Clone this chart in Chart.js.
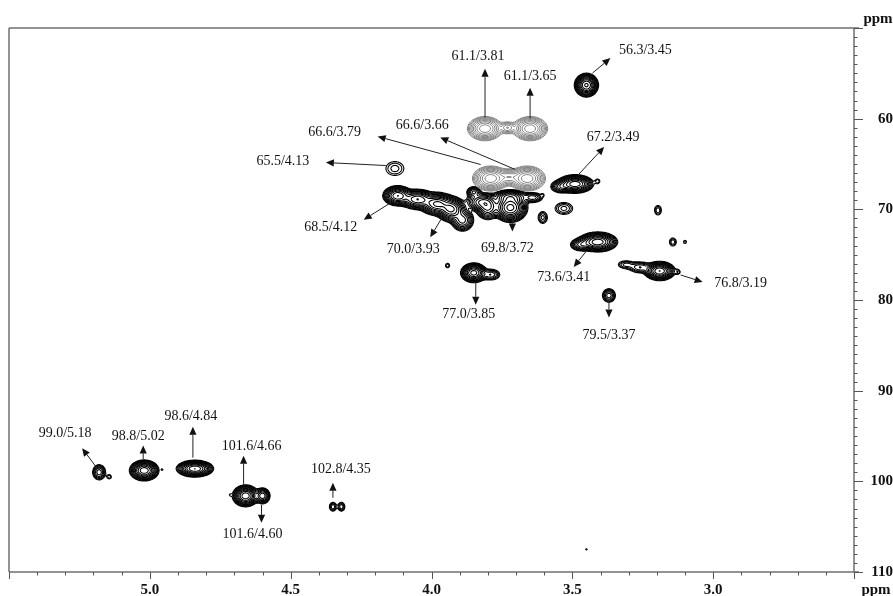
<!DOCTYPE html>
<html>
<head>
<meta charset="utf-8">
<script src="https://cdn.jsdelivr.net/npm/chart.js@4.4.1/dist/chart.umd.min.js"></script>
<style>
  html, body { margin: 0; padding: 0; background: #fff; }
  canvas { display: block; }
</style>
</head>
<body>
<canvas id="hsqc" width="893" height="596"></canvas>
<script>
// ---- Sample spectrum (black contours): 1H shift, 13C shift (ppm), relative intensity, Gaussian sigma (ppm)
const sampleH = [3.45, 4.13, 4.12, 4.05, 3.98, 3.93, 3.89, 3.85, 3.80, 3.72, 3.72, 3.64,
                 3.49, 3.54, 3.41, 3.41, 3.47, 3.19, 3.26, 3.31, 3.125, 3.37, 3.85, 3.79,
                 3.943, 3.196, 3.143, 3.10, 3.605, 3.53, 3.605, 3.45,
                 5.18, 5.144, 5.02, 4.956, 4.84, 4.66, 4.60, 4.715, 4.35, 4.32, 3.82];
const sampleC = [56.3, 65.5, 68.5, 68.9, 69.4, 70.0, 71.2, 68.1, 69.9, 69.8, 68.6, 68.7,
                 67.2, 67.5, 66.9, 73.6, 73.9, 76.8, 76.4, 76.1, 76.9, 79.5, 77.0, 77.2,
                 76.2, 70.1, 73.6, 73.6, 70.9, 69.9, 68.4, 107.5,
                 99.0, 99.5, 98.8, 98.7, 98.6, 101.6, 101.6, 101.5, 102.8, 102.8, 69.2];
const sampleAmp = [1.5, 0.09, 1.0, 1.0, 1.1, 1.1, 0.45, 0.3, 0.5, 1.6, 0.5, 0.25,
                   1.3, 0.3, 0.07, 1.3, 0.3, 1.4, 0.2, 0.12, 0.07, 0.25, 1.2, 0.2,
                   0.07, 0.1, 0.1, 0.06, 0.12, 0.12, 0.05, 0.05,
                   0.25, 0.07, 1.3, 0.045, 1.4, 1.3, 0.5, 0.045, 0.14, 0.14, 0.55];
const sampleWH = [0.016, 0.025, 0.021, 0.025, 0.025, 0.021, 0.018, 0.012, 0.018, 0.023, 0.028, 0.018,
                  0.025, 0.018, 0.007, 0.027, 0.018, 0.021, 0.021, 0.018, 0.007, 0.012, 0.018, 0.018,
                  0.007, 0.009, 0.009, 0.0064, 0.011, 0.021, 0.0046, 0.0046,
                  0.012, 0.007, 0.020, 0.0043, 0.025, 0.018, 0.012, 0.0043, 0.0078, 0.0078, 0.025];
const sampleWC = [0.49, 0.60, 0.44, 0.44, 0.50, 0.55, 0.55, 0.30, 0.55, 0.61, 0.33, 0.28,
                  0.39, 0.33, 0.22, 0.42, 0.33, 0.40, 0.33, 0.28, 0.22, 0.39, 0.42, 0.33,
                  0.24, 0.39, 0.33, 0.20, 0.44, 0.44, 0.14, 0.14,
                  0.44, 0.22, 0.44, 0.13, 0.35, 0.46, 0.39, 0.13, 0.31, 0.31, 0.45];

// ---- Reference spectrum (grey contours)
const refH   = [3.81, 3.65, 3.73, 3.79, 3.66, 3.725];
const refC   = [61.1, 61.1, 61.0, 66.6, 66.6, 66.4];
const refAmp = [1.0, 1.0, 0.3, 1.0, 1.0, 0.3];
const refWH  = [0.027, 0.027, 0.014, 0.028, 0.028, 0.018];
const refWC  = [0.58, 0.58, 0.36, 0.60, 0.60, 0.44];

// ---- Assigned cross-peaks (13C / 1H)
const assignedC = [56.3, 61.1, 61.1, 66.6, 66.6, 65.5, 67.2, 68.5, 70.0, 69.8,
                   73.6, 76.8, 79.5, 77.0, 99.0, 98.8, 98.6, 101.6, 101.6, 102.8];
const assignedH = [3.45, 3.81, 3.65, 3.79, 3.66, 4.13, 3.49, 4.12, 3.93, 3.72,
                   3.41, 3.19, 3.37, 3.85, 5.18, 5.02, 4.84, 4.66, 4.60, 4.35];

// Axis ranges and tick steps (ppm)
const xRange = [2.5, 5.5];
const yRange = [50, 110];
const xMajor = 0.5, xMinor = 0.1;
const yMajor = 10, yMinor = 1;

// Callout layout, px offsets from the cross-peak: [arrow start dx, dy, arrow tip dx, dy, label dx, dy]
const calloutLayout = [
  [6, -12, 24, -27, 59, -35],
  [0, -11, 0, -60, -7, -72],
  [0, -10, 0, -41, 0, -52],
  [-10, -14, -113, -42, -156, -46],
  [-12, -9, -87, -41, -105, -53],
  [-9, -3, -69, -6, -112, -7],
  [3, -9, 29, -37, 38, -47],
  [-7, 7, -34, 24, -67, 32],
  [-9, 8, -21, 28, -38, 40],
  [2, 11, 2, 24, -3, 41],
  [-12, 10, -24, 25, -34, 35],
  [21, 4, 43, 11, 81, 12],
  [0, 5, 0, 22, 0, 40],
  [2, 9, 2, 32, -5, 42],
  [-2, -4, -17, -24, -34, -39],
  [-1, -11, -1, -25, -6, -34],
  [-2, -11, -2, -42, -4, -52],
  [-2, -11, -2, -40, 6, -50],
  [-1, 9, -1, 27, -10, 38],
  [0, -9, 0, -24, 8, -37]
];

// Contour levels (geometric series)
function levels(base, ratio, n) {
  const out = [];
  for (let i = 0; i < n; i++) out.push(base * Math.pow(ratio, i));
  return out;
}
const sampleLevels = levels(0.04, 1.38, 13);
const refLevels = levels(0.07, 1.35, 9);

const SERIF = '"Liberation Serif", "Times New Roman", serif';

// Sum of 2D Gaussians on a 1 px grid covering the plot area
function buildField(ds, xs, ys, area) {
  const ox = Math.floor(area.left), oy = Math.floor(area.top);
  const nx = Math.ceil(area.right) - ox + 1, ny = Math.ceil(area.bottom) - oy + 1;
  const f = new Float32Array(nx * ny);
  ds.data.forEach(p => {
    const cx = xs.getPixelForValue(p.x), cy = ys.getPixelForValue(p.y);
    const sx = Math.abs(xs.getPixelForValue(p.x + p.wh) - cx);
    const sy = Math.abs(ys.getPixelForValue(p.y + p.wc) - cy);
    const i0 = Math.max(0, Math.floor(cx - 4 * sx - ox)), i1 = Math.min(nx - 1, Math.ceil(cx + 4 * sx - ox));
    const j0 = Math.max(0, Math.floor(cy - 4 * sy - oy)), j1 = Math.min(ny - 1, Math.ceil(cy + 4 * sy - oy));
    for (let j = j0; j <= j1; j++) {
      const dy = (oy + j - cy) / sy;
      for (let i = i0; i <= i1; i++) {
        const dx = (ox + i - cx) / sx;
        f[j * nx + i] += p.amp * Math.exp(-0.5 * (dx * dx + dy * dy));
      }
    }
  });
  return { f, nx, ny, ox, oy };
}

// Marching squares
function drawContours(ctx, field, lvls) {
  const { f, nx, ny, ox, oy } = field;
  let px = 0, py = 0;
  for (const L of lvls) {
    ctx.beginPath();
    for (let j = 0; j < ny - 1; j++) {
      const r0 = j * nx, r1 = r0 + nx;
      for (let i = 0; i < nx - 1; i++) {
        const a = f[r0 + i], b = f[r0 + i + 1], c = f[r1 + i + 1], d = f[r1 + i];
        let idx = 0;
        if (a > L) idx |= 8;
        if (b > L) idx |= 4;
        if (c > L) idx |= 2;
        if (d > L) idx |= 1;
        if (idx === 0 || idx === 15) continue;
        const x = ox + i, y = oy + j;
        const pt = (e) => {
          if (e === 0) { px = x + (L - a) / (b - a); py = y; }
          else if (e === 1) { px = x + 1; py = y + (L - b) / (c - b); }
          else if (e === 2) { px = x + (L - d) / (c - d); py = y + 1; }
          else { px = x; py = y + (L - a) / (d - a); }
        };
        const seg = (e1, e2) => {
          pt(e1); ctx.moveTo(px, py);
          pt(e2); ctx.lineTo(px, py);
        };
        switch (idx) {
          case 1: case 14: seg(3, 2); break;
          case 2: case 13: seg(2, 1); break;
          case 3: case 12: seg(3, 1); break;
          case 4: case 11: seg(0, 1); break;
          case 5: seg(3, 0); seg(2, 1); break;
          case 6: case 9: seg(0, 2); break;
          case 7: case 8: seg(3, 0); break;
          case 10: seg(0, 1); seg(3, 2); break;
        }
      }
    }
    ctx.stroke();
  }
}

const contourPlugin = {
  id: 'contours',
  afterDatasetsDraw(chart) {
    const { ctx, chartArea } = chart;
    const xs = chart.scales.x, ys = chart.scales.y;
    ctx.save();
    ctx.beginPath();
    ctx.rect(chartArea.left, chartArea.top, chartArea.right - chartArea.left, chartArea.bottom - chartArea.top);
    ctx.clip();
    ctx.lineJoin = 'round';
    chart.data.datasets.forEach(ds => {
      const field = buildField(ds, xs, ys, chartArea);
      ctx.strokeStyle = ds.borderColor;
      ctx.lineWidth = ds.borderWidth;
      drawContours(ctx, field, ds.contourLevels);
    });
    ctx.restore();
  }
};

const framePlugin = {
  id: 'frame',
  afterDraw(chart) {
    const { ctx, chartArea: a } = chart;
    const xs = chart.scales.x, ys = chart.scales.y;
    ctx.save();
    ctx.strokeStyle = '#707070';
    ctx.lineWidth = 1.5;
    ctx.beginPath();
    ctx.moveTo(a.left, a.top); ctx.lineTo(a.right + 5, a.top);
    ctx.moveTo(a.left, a.bottom); ctx.lineTo(a.right + 5, a.bottom);
    ctx.moveTo(a.left, a.top); ctx.lineTo(a.left, a.bottom);
    ctx.moveTo(a.right, a.top); ctx.lineTo(a.right, a.bottom);
    ctx.stroke();

    ctx.strokeStyle = '#555';
    ctx.lineWidth = 1;
    ctx.beginPath();
    const nxT = Math.round((xRange[1] - xRange[0]) / xMinor);
    for (let k = 0; k <= nxT; k++) {
      const v = xRange[0] + k * xMinor;
      const p = Math.round(xs.getPixelForValue(v)) + 0.5;
      const major = Math.abs(v / xMajor - Math.round(v / xMajor)) < 1e-6;
      ctx.moveTo(p, a.bottom);
      ctx.lineTo(p, a.bottom + (major ? 7 : 3.5));
    }
    const nyT = Math.round((yRange[1] - yRange[0]) / yMinor);
    for (let k = 0; k <= nyT; k++) {
      const v = yRange[0] + k * yMinor;
      const p = Math.round(ys.getPixelForValue(v)) + 0.5;
      const major = Math.abs(v / yMajor - Math.round(v / yMajor)) < 1e-6;
      ctx.moveTo(a.right, p);
      ctx.lineTo(a.right + (major ? 9 : 3.5), p);
    }
    ctx.stroke();

    // axis units
    ctx.fillStyle = '#111';
    ctx.font = 'bold 15px ' + SERIF;
    ctx.textAlign = 'center';
    ctx.textBaseline = 'middle';
    ctx.fillText('ppm', a.right + 24, a.top - 9);
    ctx.fillText('ppm', a.right + 22, a.bottom + 18);
    ctx.restore();
  }
};

function arrow(ctx, x1, y1, x2, y2) {
  const ang = Math.atan2(y2 - y1, x2 - x1);
  const hl = 8, hw = 3.6;
  const bx = x2 - hl * Math.cos(ang), by = y2 - hl * Math.sin(ang);
  ctx.beginPath();
  ctx.moveTo(x1, y1);
  ctx.lineTo(bx, by);
  ctx.stroke();
  ctx.beginPath();
  ctx.moveTo(x2, y2);
  ctx.lineTo(bx - hw * Math.sin(ang), by + hw * Math.cos(ang));
  ctx.lineTo(bx + hw * Math.sin(ang), by - hw * Math.cos(ang));
  ctx.closePath();
  ctx.fill();
}

const calloutPlugin = {
  id: 'callouts',
  afterDraw(chart) {
    const { ctx } = chart;
    const xs = chart.scales.x, ys = chart.scales.y;
    ctx.save();
    ctx.strokeStyle = '#222';
    ctx.fillStyle = '#111';
    ctx.lineWidth = 1;
    ctx.font = '14px ' + SERIF;
    ctx.textAlign = 'center';
    ctx.textBaseline = 'middle';
    assignedC.forEach((c, i) => {
      const h = assignedH[i];
      const cx = xs.getPixelForValue(h), cy = ys.getPixelForValue(c);
      const [sx, sy, tx, ty, lx, ly] = calloutLayout[i];
      arrow(ctx, cx + sx, cy + sy, cx + tx, cy + ty);
      ctx.fillText(c.toFixed(1) + '/' + h.toFixed(2), cx + lx, cy + ly);
    });
    ctx.restore();
  }
};

const toPoints = (H, C, A, WH, WC) => H.map((h, i) => ({ x: h, y: C[i], amp: A[i], wh: WH[i], wc: WC[i] }));

new Chart(document.getElementById('hsqc'), {
  type: 'scatter',
  data: {
    datasets: [
      {
        label: 'sample',
        data: toPoints(sampleH, sampleC, sampleAmp, sampleWH, sampleWC),
        pointRadius: 0,
        borderColor: '#000000',
        borderWidth: 1.1,
        contourLevels: sampleLevels
      },
      {
        label: 'reference',
        data: toPoints(refH, refC, refAmp, refWH, refWC),
        pointRadius: 0,
        borderColor: '#858585',
        borderWidth: 1,
        contourLevels: refLevels
      }
    ]
  },
  options: {
    responsive: false,
    animation: false,
    devicePixelRatio: 1,
    layout: { padding: { left: 9, top: 28, right: 0, bottom: 0 } },
    plugins: { legend: { display: false }, tooltip: { enabled: false } },
    scales: {
      x: {
        type: 'linear',
        position: 'bottom',
        reverse: true,
        min: xRange[0],
        max: xRange[1],
        grid: { display: false, drawTicks: false },
        border: { display: false },
        ticks: {
          stepSize: xMajor,
          padding: 9,
          autoSkip: false,
          maxRotation: 0,
          color: '#111',
          font: { family: SERIF, size: 15, weight: 'bold' },
          callback: v => (v > xRange[0] + 1e-6 && v < xRange[1] - 1e-6) ? Number(v).toFixed(1) : ''
        },
        afterFit: s => { s.height = 24; }
      },
      y: {
        type: 'linear',
        position: 'right',
        reverse: true,
        min: yRange[0],
        max: yRange[1],
        grid: { display: false, drawTicks: false },
        border: { display: false },
        ticks: {
          stepSize: yMajor,
          padding: 8,
          crossAlign: 'far',
          autoSkip: false,
          color: '#111',
          font: { family: SERIF, size: 15, weight: 'bold' },
          callback: v => v > yRange[0] ? String(Math.round(v)) : ''
        },
        afterFit: s => { s.width = 39; }
      }
    }
  },
  plugins: [contourPlugin, framePlugin, calloutPlugin]
});
</script>
</body>
</html>
